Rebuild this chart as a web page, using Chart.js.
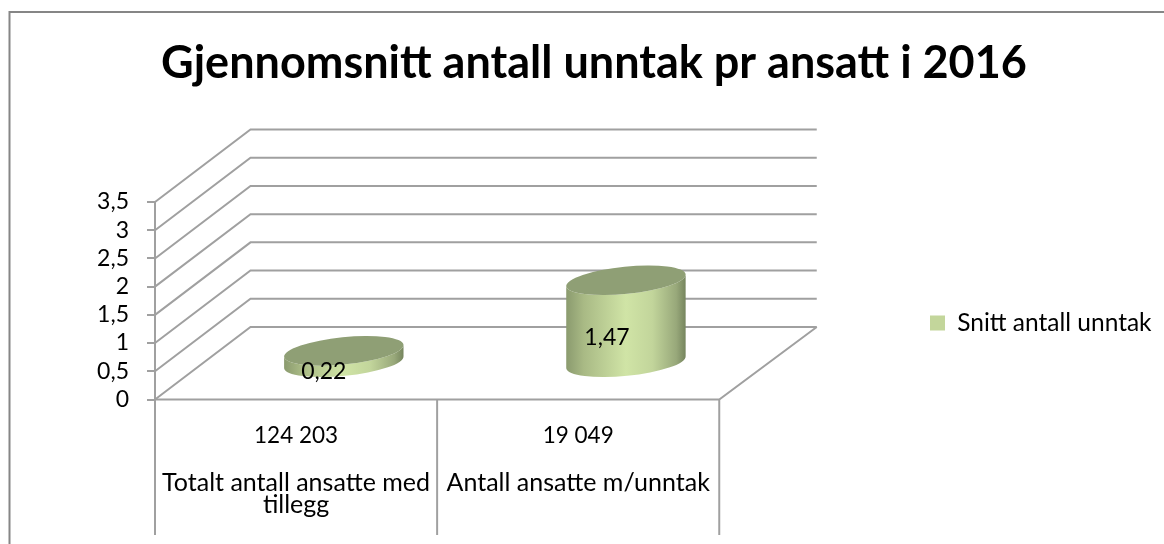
<!DOCTYPE html>
<html><head><meta charset="utf-8">
<style>html,body{margin:0;padding:0;background:#fff}canvas{display:block}#w{width:1164px;height:544px;position:relative}</style>
<script src="https://cdn.jsdelivr.net/npm/chart.js@4"></script>
</head><body><div id="w"><canvas id="c" width="1164" height="544"></canvas></div>
<script>
const titleText = 'Gjennomsnitt antall unntak pr ansatt i 2016';
const seriesName = 'Snitt antall unntak';
const countLabels = ['124 203', '19 049'];
const groupLabels = [['Totalt antall ansatte med', 'tillegg'], ['Antall ansatte m/unntak']];
const seriesValues = [0.22, 1.47];
const valueLabels = ['0,22', '1,47'];

const FONT = 'Lato, Carlito, "Open Sans", sans-serif';
const DEPTH_X = 95.5, DEPTH_Y = -72.5, BACK_EXTRA = 2;
const GRID = '#a0a0a0';

const scene = {
  id: 'scene',
  afterLayout(chart) {
    const lg = chart.legend, dx = 920 - lg.left, dy = 51;
    lg.left += dx; lg.right += dx; lg.top += dy; lg.bottom += dy;
    const t = chart.titleBlock, tx = 594 - (t.left + t.right) / 2;
    t.left += tx; t.right += tx;
  },
  beforeDraw(chart) {
    const c = chart.ctx;
    c.save();
    c.strokeStyle = '#868686'; c.lineWidth = 2;
    c.beginPath(); c.moveTo(9.5, 544); c.lineTo(9.5, 12); c.lineTo(1164, 12); c.stroke();
    c.restore();
  },
  beforeDatasetsDraw(chart) {
    const c = chart.ctx, x = chart.scales.x, y = chart.scales.y;
    const l = x.left, r = x.right;
    c.save(); c.strokeStyle = GRID; c.lineWidth = 2;
    y.ticks.forEach(t => {
      const py = y.getPixelForValue(t.value);
      c.beginPath();
      c.moveTo(l, py); c.lineTo(l + DEPTH_X, py + DEPTH_Y); c.lineTo(r + DEPTH_X + BACK_EXTRA, py + DEPTH_Y);
      c.stroke();
    });
    const by = y.getPixelForValue(0);
    c.beginPath(); c.moveTo(l, by); c.lineTo(r, by); c.lineTo(r + DEPTH_X + BACK_EXTRA, by + DEPTH_Y); c.stroke();
    for (let i = 0; i <= countLabels.length; i++) {
      const px = x.getPixelForValue(i - 0.5);
      c.beginPath(); c.moveTo(px, i ? by : y.top); c.lineTo(px, 535); c.stroke();
    }
    c.restore();
  },
  beforeDatasetDraw() { return false; },
  afterDatasetsDraw(chart) {
    const c = chart.ctx, meta = chart.getDatasetMeta(0);
    meta.data.forEach((bar, i) => {
      const cx = bar.x + DEPTH_X * 0.5, rx = bar.width / 2, ry = 13.6, rot = -0.1;
      const topY = bar.y + DEPTH_Y * 0.5, baseY = bar.base + DEPTH_Y * 0.5;
      const ex = rx * Math.cos(rot), ey = rx * Math.sin(rot);
      const g = c.createLinearGradient(cx - rx, 0, cx + rx, 0);
      g.addColorStop(0, '#8a9a6e'); g.addColorStop(0.15, '#a9ba85');
      g.addColorStop(0.5, '#d0e4a6'); g.addColorStop(0.72, '#c2d59b');
      g.addColorStop(0.92, '#98a87a'); g.addColorStop(1, '#75845d');
      c.save();
      c.beginPath();
      c.moveTo(cx + ex, topY + ey);
      c.lineTo(cx + ex, baseY + ey);
      c.ellipse(cx, baseY, rx, ry, rot, 0, Math.PI, false);
      c.lineTo(cx - ex, topY - ey);
      c.ellipse(cx, topY, rx, ry, rot, Math.PI, 0, true);
      c.closePath();
      c.fillStyle = g; c.fill();
      c.beginPath(); c.ellipse(cx, topY, rx, ry, rot, 0, Math.PI * 2);
      c.fillStyle = '#8f9f75'; c.fill();
      c.fillStyle = '#000'; c.font = '23px ' + FONT;
      c.textAlign = 'center'; c.textBaseline = 'middle';
      const lx = i === 0 ? cx - 20 : cx - 19;
      const ly = i === 0 ? baseY + 9 : (topY + baseY) / 2 + 16;
      c.fillText(valueLabels[i], lx, ly);
      c.restore();
    });
  }
};

new Chart(document.getElementById('c'), {
  type: 'bar',
  data: {
    labels: countLabels,
    datasets: [{ label: seriesName, data: seriesValues, backgroundColor: '#c3d69b', barThickness: 120 }]
  },
  plugins: [scene],
  options: {
    responsive: false, animation: false, devicePixelRatio: 1,
    layout: { padding: { left: 0, right: 205, top: 0, bottom: 0 } },
    plugins: {
      tooltip: { enabled: false },
      title: { display: true, text: titleText, color: '#000',
        font: { family: FONT, size: 45, weight: 'bold' }, padding: { top: 36, bottom: 112 } },
      legend: { position: 'right',
        labels: { color: '#000', boxWidth: 15, boxHeight: 15, padding: 10, font: { family: FONT, size: 24.5 } } }
    },
    scales: {
      x: {
        afterFit(s) { s.height = 60; },
        grid: { display: false }, border: { display: false },
        ticks: { color: '#000', maxRotation: 0, minRotation: 0, autoSkip: false, padding: 15,
          font: { family: FONT, size: 22.5 } }
      },
      x2: {
        type: 'category', position: 'bottom', offset: true, labels: groupLabels,
        afterFit(s) { s.height = 84.5; },
        grid: { display: false }, border: { display: false },
        ticks: { color: '#000', maxRotation: 0, minRotation: 0, autoSkip: false, padding: 4,
          font: { family: FONT, size: 25, lineHeight: 0.9 } }
      },
      y: {
        min: 0, max: 3.5,
        afterFit(s) { s.width = 155; },
        grid: { drawOnChartArea: false, color: GRID, tickLength: 8, lineWidth: 2 },
        border: { display: false },
        ticks: { stepSize: 0.5, autoSkip: false, color: '#000', padding: 18, font: { family: FONT, size: 23 },
          callback: v => String(v).replace('.', ',') }
      }
    }
  }
});
</script></body></html>
